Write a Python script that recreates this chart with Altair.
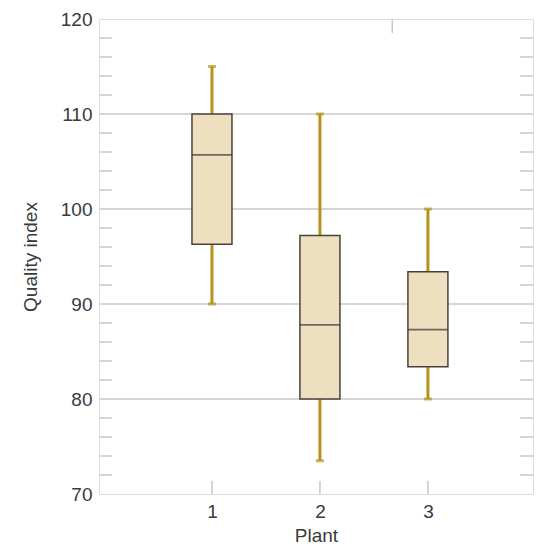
import altair as alt
import pandas as pd

plants = [1, 2, 3]
whisker_low = [90.0, 73.5, 80.0]
q1 = [96.3, 80.0, 83.4]
median = [105.7, 87.8, 87.3]
q3 = [110.0, 97.2, 93.4]
whisker_high = [115.0, 110.0, 100.0]

major_ticks = [70, 80, 90, 100, 110, 120]
grid_values = [80, 90, 100, 110]
minor_ticks = [v for v in range(72, 120, 2) if v % 10 != 0]
top_ticks = [2.67]

df = pd.DataFrame({"plant": plants, "lo": whisker_low, "q1": q1,
                   "med": median, "q3": q3, "hi": whisker_high})
minor_df = pd.DataFrame({"v": minor_ticks})
top_df = pd.DataFrame({"x": top_ticks})

FONT = "Liberation Sans"
TXT = "#3a3a3a"
GRID = "#c8c8c8"
W, H = 434, 475

xscale = alt.Scale(domain=[0, 3.927], nice=False, zero=False)
yscale = alt.Scale(domain=[70, 120], nice=False, zero=False)

xaxis = alt.Axis(values=plants, format="d", ticks=False, domain=False, grid=False,
                 labelFont=FONT, labelFontSize=19, labelColor=TXT, labelPadding=8,
                 title="Plant", titleFont=FONT, titleFontSize=19, titleFontWeight="normal",
                 titleColor=TXT, titlePadding=5)
yaxis = alt.Axis(values=major_ticks, ticks=False, domain=False, grid=False,
                 labelFont=FONT, labelFontSize=19, labelColor=TXT, labelPadding=7,
                 title="Quality index", titleFont=FONT, titleFontSize=19,
                 titleFontWeight="normal", titleColor=TXT, titlePadding=20)

grid = alt.Chart(pd.DataFrame({"g": grid_values})).mark_rule(
    color=GRID, strokeWidth=1.5).encode(
    y=alt.Y("g:Q", scale=yscale, axis=yaxis),
    x=alt.value(0), x2=alt.value(W))

left_minor = alt.Chart(minor_df).mark_rule(color=GRID, strokeWidth=1.5).encode(
    y=alt.Y("v:Q", scale=yscale), x=alt.value(0), x2=alt.value(13))
right_minor = alt.Chart(minor_df).mark_rule(color=GRID, strokeWidth=1.5).encode(
    y=alt.Y("v:Q", scale=yscale), x=alt.value(W - 13), x2=alt.value(W))

bottom_ticks = alt.Chart(df).mark_rule(color=GRID, strokeWidth=1.5).encode(
    x=alt.X("plant:Q", scale=xscale, axis=xaxis),
    y=alt.value(H - 13), y2=alt.value(H))
top_tick = alt.Chart(top_df).mark_rule(color=GRID, strokeWidth=1.5).encode(
    x=alt.X("x:Q", scale=xscale), y=alt.value(0), y2=alt.value(14))

whisker = alt.Chart(df).mark_rule(color="#B8921C", strokeWidth=3).encode(
    x=alt.X("plant:Q", scale=xscale),
    y=alt.Y("lo:Q", scale=yscale), y2="hi:Q")
cap_lo = alt.Chart(df).mark_tick(color="#B8921C", orient="horizontal", size=8,
                                 thickness=3).encode(
    x=alt.X("plant:Q", scale=xscale), y=alt.Y("lo:Q", scale=yscale))
cap_hi = alt.Chart(df).mark_tick(color="#B8921C", orient="horizontal", size=8,
                                 thickness=3).encode(
    x=alt.X("plant:Q", scale=xscale), y=alt.Y("hi:Q", scale=yscale))

box = alt.Chart(df).mark_bar(size=40, fill="#EEDFBF", stroke="#4a4242",
                             strokeWidth=1.5).encode(
    x=alt.X("plant:Q", scale=xscale),
    y=alt.Y("q1:Q", scale=yscale), y2="q3:Q")
med = alt.Chart(df).mark_tick(color="#3a3232", orient="horizontal", size=40,
                              thickness=1.8).encode(
    x=alt.X("plant:Q", scale=xscale), y=alt.Y("med:Q", scale=yscale))

chart = alt.layer(grid, left_minor, right_minor, bottom_ticks, top_tick,
                  whisker, cap_lo, cap_hi, box, med).properties(
    width=W, height=H,
    autosize=alt.AutoSizeParams(type="none"),
    padding={"left": 91, "top": 11, "right": 4, "bottom": 51},
).configure_view(stroke=GRID, strokeWidth=1.5).configure(background="white")

chart.save("out.html", embed_options={"renderer": "svg", "actions": False})
